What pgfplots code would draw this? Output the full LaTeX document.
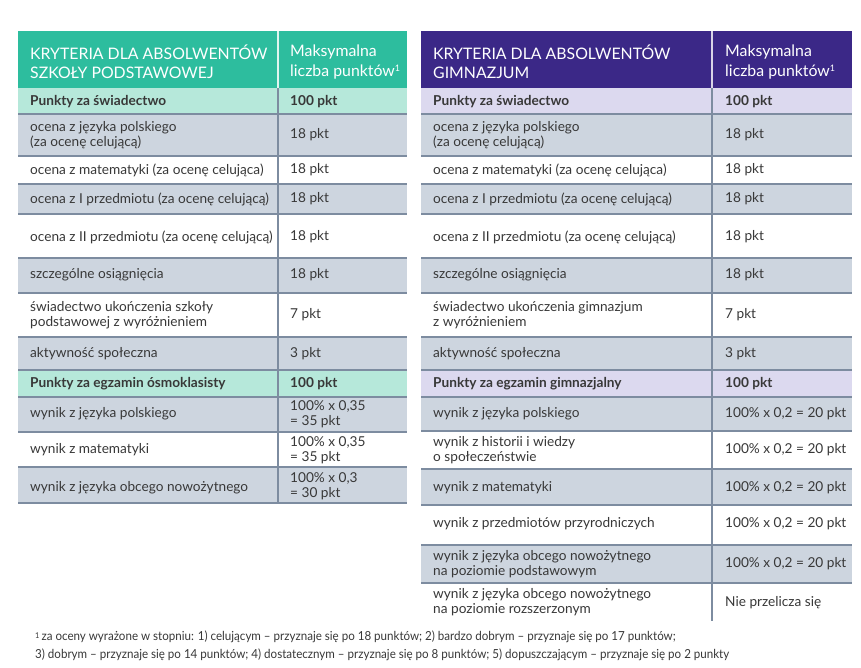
\documentclass[border=0pt]{standalone}
\usepackage{pgfplots}
\pgfplotsset{compat=1.18}
\usepackage{fontspec}
\setmainfont{Lato}
\newfontfamily\notefont[FakeStretch=0.93]{Lato}
\definecolor{hdrA}{HTML}{2DBD9E}
\definecolor{hdrB}{HTML}{3B2887}
\definecolor{subA}{HTML}{B6E8DA}
\definecolor{subB}{HTML}{DCD9EF}
\definecolor{greyrow}{HTML}{CDD5DF}
\definecolor{rule}{HTML}{7D8CA0}
\definecolor{txt}{HTML}{383838}
\newcommand\bg[5]{\fill[#5] (axis cs:#1,#3) rectangle (axis cs:#2,#4);}
\newcommand\hl[3]{\draw[rule, line width=1.6bp] (axis cs:#1,#3) -- (axis cs:#2,#3);}
\newcommand\bodyfont{\fontsize{13.7}{15}\selectfont}
\newcommand\hdrfont{\fontsize{15.9}{19.5}\selectfont}
\newcommand\hsup[1]{\raisebox{0.55ex}{\fontsize{9}{9}\selectfont #1}}
\tikzset{
  c/.style={anchor=west, text=txt, inner sep=0pt, align=left, font=\bodyfont},
  cb/.style={c, font=\bodyfont\bfseries},
  h/.style={anchor=west, text=white, inner sep=0pt, align=left, font=\hdrfont},
}
\begin{document}
\begin{tikzpicture}
\begin{axis}[
  scale only axis, width=861bp, height=668bp,
  xmin=0, xmax=861, ymin=0, ymax=668, y dir=reverse,
  hide axis, clip=false,
]
\bg{0}{861}{0}{668}{white}
% ---------- LEFT TABLE ----------
\bg{18}{407}{31}{88}{hdrA}
\bg{18}{407}{88}{114}{subA}
\bg{18}{407}{114}{156}{greyrow}
\bg{18}{407}{184}{214}{greyrow}
\bg{18}{407}{258}{293}{greyrow}
\bg{18}{407}{337}{370}{greyrow}
\bg{18}{407}{370}{397}{subA}
\bg{18}{407}{397}{432}{greyrow}
\bg{18}{407}{467}{503}{greyrow}
\pgfplotsinvokeforeach{114,156,184,214,258,293,337,370,397,432,467,503}{\hl{18}{407}{#1}}
\draw[white!85!hdrA, line width=1.2bp] (axis cs:278,31) -- (axis cs:278,88);
\draw[rule, line width=1.6bp] (axis cs:278,88) -- (axis cs:278,503);
% header
\node[h] at (axis cs:30,62) {KRYTERIA DLA ABSOLWENTÓW\\SZKOŁY PODSTAWOWEJ};
\node[h] at (axis cs:290,62) {Maksymalna\\liczba punktów\hsup{1}};
% body
\node[cb] at (axis cs:30,102) {Punkty za świadectwo};
\node[cb] at (axis cs:290,102) {100 pkt};
\node[c] at (axis cs:30,135) {ocena z języka polskiego\\(za ocenę celującą)};
\node[c] at (axis cs:290,135) {18 pkt};
\node[c] at (axis cs:30,170) {ocena z matematyki (za ocenę celująca)};
\node[c] at (axis cs:290,170) {18 pkt};
\node[c] at (axis cs:30,199) {ocena z I przedmiotu (za ocenę celującą)};
\node[c] at (axis cs:290,199) {18 pkt};
\node[c] at (axis cs:30,237) {ocena z II przedmiotu (za ocenę celującą)};
\node[c] at (axis cs:290,237) {18 pkt};
\node[c] at (axis cs:30,275) {szczególne osiągnięcia};
\node[c] at (axis cs:290,275) {18 pkt};
\node[c] at (axis cs:30,315) {świadectwo ukończenia szkoły\\podstawowej z wyróżnieniem};
\node[c] at (axis cs:290,315) {7 pkt};
\node[c] at (axis cs:30,354) {aktywność społeczna};
\node[c] at (axis cs:290,354) {3 pkt};
\node[cb] at (axis cs:30,384) {Punkty za egzamin ósmoklasisty};
\node[cb] at (axis cs:290,384) {100 pkt};
\node[c] at (axis cs:30,414) {wynik z języka polskiego};
\node[c] at (axis cs:290,414) {100\% x 0,35\\= 35 pkt};
\node[c] at (axis cs:30,450) {wynik z matematyki};
\node[c] at (axis cs:290,450) {100\% x 0,35\\= 35 pkt};
\node[c] at (axis cs:30,488) {wynik z języka obcego nowożytnego};
\node[c] at (axis cs:290,486) {100\% x 0,3\\= 30 pkt};
% ---------- RIGHT TABLE ----------
\bg{421}{852}{31}{88}{hdrB}
\bg{421}{852}{88}{114}{subB}
\bg{421}{852}{114}{156}{greyrow}
\bg{421}{852}{184}{214}{greyrow}
\bg{421}{852}{258}{293}{greyrow}
\bg{421}{852}{337}{370}{greyrow}
\bg{421}{852}{370}{397}{subB}
\bg{421}{852}{397}{431}{greyrow}
\bg{421}{852}{469}{505}{greyrow}
\bg{421}{852}{545}{583}{greyrow}
\pgfplotsinvokeforeach{114,156,184,214,258,293,337,370,397,431,469,505,545,583}{\hl{421}{852}{#1}}
\draw[white!80!hdrB, line width=1.2bp] (axis cs:712,31) -- (axis cs:712,88);
\draw[rule, line width=1.6bp] (axis cs:712,88) -- (axis cs:712,621);
\node[h] at (axis cs:433,62) {KRYTERIA DLA ABSOLWENTÓW\\GIMNAZJUM};
\node[h] at (axis cs:725,62) {Maksymalna\\liczba punktów\hsup{1}};
\node[cb] at (axis cs:433,102) {Punkty za świadectwo};
\node[cb] at (axis cs:725,102) {100 pkt};
\node[c] at (axis cs:433,135) {ocena z języka polskiego\\(za ocenę celującą)};
\node[c] at (axis cs:725,135) {18 pkt};
\node[c] at (axis cs:433,170) {ocena z matematyki (za ocenę celująca)};
\node[c] at (axis cs:725,170) {18 pkt};
\node[c] at (axis cs:433,199) {ocena z I przedmiotu (za ocenę celującą)};
\node[c] at (axis cs:725,199) {18 pkt};
\node[c] at (axis cs:433,237) {ocena z II przedmiotu (za ocenę celującą)};
\node[c] at (axis cs:725,237) {18 pkt};
\node[c] at (axis cs:433,275) {szczególne osiągnięcia};
\node[c] at (axis cs:725,275) {18 pkt};
\node[c] at (axis cs:433,315) {świadectwo ukończenia gimnazjum\\z wyróżnieniem};
\node[c] at (axis cs:725,315) {7 pkt};
\node[c] at (axis cs:433,354) {aktywność społeczna};
\node[c] at (axis cs:725,354) {3 pkt};
\node[cb] at (axis cs:433,384) {Punkty za egzamin gimnazjalny};
\node[cb] at (axis cs:725,384) {100 pkt};
\node[c] at (axis cs:433,414) {wynik z języka polskiego};
\node[c] at (axis cs:725,414) {100\% x 0,2 = 20 pkt};
\node[c] at (axis cs:433,450) {wynik z historii i wiedzy\\o społeczeństwie};
\node[c] at (axis cs:725,450) {100\% x 0,2 = 20 pkt};
\node[c] at (axis cs:433,488) {wynik z matematyki};
\node[c] at (axis cs:725,488) {100\% x 0,2 = 20 pkt};
\node[c] at (axis cs:433,524) {wynik z przedmiotów przyrodniczych};
\node[c] at (axis cs:725,524) {100\% x 0,2 = 20 pkt};
\node[c] at (axis cs:433,564) {wynik z języka obcego nowożytnego\\na poziomie podstawowym};
\node[c] at (axis cs:725,564) {100\% x 0,2 = 20 pkt};
\node[c] at (axis cs:433,602) {wynik z języka obcego nowożytnego\\na poziomie rozszerzonym};
\node[c] at (axis cs:725,603) {Nie przelicza się};
% ---------- FOOTNOTE ----------
\node[c, font=\notefont\fontsize{12.5}{18}\selectfont] at (axis cs:35,646) {{\fontsize{8}{8}\selectfont\raisebox{0.6ex}{1}}\,za oceny wyrażone w stopniu: 1) celującym – przyznaje się po 18 punktów; 2) bardzo dobrym – przyznaje się po 17 punktów;\\3) dobrym – przyznaje się po 14 punktów; 4) dostatecznym – przyznaje się po 8 punktów; 5) dopuszczającym – przyznaje się po 2 punkty};
\end{axis}
\end{tikzpicture}
\end{document}
